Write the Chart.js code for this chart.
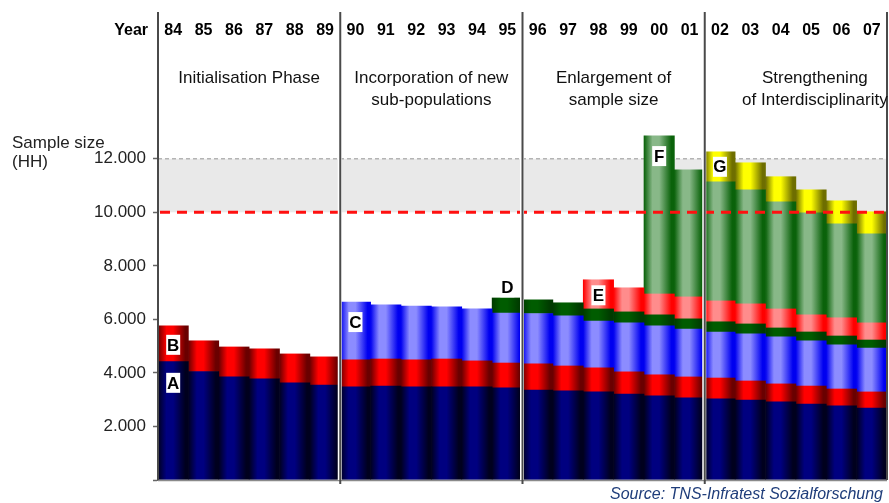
<!DOCTYPE html>
<html>
<head>
<meta charset="utf-8">
<title>Sample size (HH) by year</title>
<script src="https://cdn.jsdelivr.net/npm/chart.js@4.4.1/dist/chart.umd.min.js"></script>
<style>
  html, body { margin: 0; padding: 0; background: #fff; }
  #wrap { width: 889px; height: 503px; position: relative; }
</style>
</head>
<body>
<div id="wrap"><canvas id="sampleChart"></canvas></div>
<script>
// Survey years (categories)
const years = ['84', '85', '86', '87', '88', '89', '90', '91', '92', '93', '94', '95',
               '96', '97', '98', '99', '00', '01', '02', '03', '04', '05', '06', '07'];

// Households per subsample, stacked bottom to top
const sampleA = [4420, 4050, 3850, 3780, 3630, 3550, 3480, 3510, 3480, 3480, 3480, 3440,
                 3360, 3330, 3290, 3210, 3140, 3070, 3030, 2990, 2920, 2840, 2770, 2690];
const sampleB = [1340, 1150, 1120, 1120, 1080, 1050, 1010, 1010, 1010, 1040, 970, 930,
                 980, 930, 900, 830, 790, 780, 780, 710, 670, 670, 630, 600];
const sampleC = [null, null, null, null, null, null, 2160, 2020, 2010, 1950, 1940, 1870,
                 1880, 1870, 1750, 1830, 1830, 1790, 1720, 1760, 1760, 1690, 1650, 1640];
const sampleD = [null, null, null, null, null, null, null, null, null, null, null, 560,
                 510, 490, 450, 410, 410, 380, 380, 370, 330, 330, 330, 300];
const sampleE = [null, null, null, null, null, null, null, null, null, null, null, null,
                 null, null, 1090, 900, 780, 820, 780, 750, 710, 640, 680, 640];
const sampleF = [null, null, null, null, null, null, null, null, null, null, null, null,
                 null, null, null, null, 5910, 4750, 4450, 4260, 4000, 3810, 3510, 3330];
const sampleG = [null, null, null, null, null, null, null, null, null, null, null, null,
                 null, null, null, null, null, null, 1120, 1010, 940, 860, 860, 820];

// Y axis ticks
const yTicks = [0, 2000, 4000, 6000, 8000, 10000, 12000];

// Target band (households)
const targetLow = 10000;
const targetHigh = 12000;

// Project phases: first and last year index + title lines
const phases = [
    { from: 0, to: 5, lines: ['Initialisation Phase'] },
    { from: 6, to: 11, lines: ['Incorporation of new', 'sub-populations'] },
    { from: 12, to: 17, lines: ['Enlargement of', 'sample size'] },
    { from: 18, to: 23, lines: ['Strengthening', 'of Interdisciplinarity'] }
];

// Subsample letters, anchored at a year and a value
const letterTags = [
    { tag: 'A', year: '84', value: 3630 },
    { tag: 'B', year: '84', value: 5050 },
    { tag: 'C', year: '90', value: 5900 },
    { tag: 'D', year: '95', value: 7200 },
    { tag: 'E', year: '98', value: 6900 },
    { tag: 'F', year: '00', value: 12100 },
    { tag: 'G', year: '02', value: 11700 }
];

const FONT = "'Liberation Sans', Arial, Helvetica, sans-serif";

// Horizontal "cylinder" shading for each bar
function barShade(edge, center) {
    return function(context) {
        const chart = context.chart;
        const xs = chart.scales.x;
        if (!xs || context.dataIndex === undefined) return center;
        const cx = xs.getPixelForValue(context.dataIndex);
        const w = xs.width / years.length;
        if (!isFinite(cx) || !isFinite(w) || w <= 0) return center;
        const g = chart.ctx.createLinearGradient(cx - w / 2, 0, cx + w / 2, 0);
        g.addColorStop(0, edge);
        g.addColorStop(0.28, center);
        g.addColorStop(0.5, center);
        g.addColorStop(0.9, edge);
        g.addColorStop(1, edge);
        return g;
    };
}

function makeSet(label, data, edge, center) {
    return {
        label: label,
        data: data,
        backgroundColor: barShade(edge, center),
        borderWidth: 0,
        barPercentage: 1,
        categoryPercentage: 1
    };
}

// Band, dashed lines, separators, header texts and letters
const decorPlugin = {
    id: 'decor',
    beforeDatasetsDraw(chart) {
        const { ctx, chartArea: a, scales: { y } } = chart;
        const yHi = y.getPixelForValue(targetHigh);
        const yLo = y.getPixelForValue(targetLow);
        ctx.save();
        ctx.fillStyle = '#e9e9e9';
        ctx.fillRect(a.left, yHi, a.right - a.left, yLo - yHi);
        ctx.strokeStyle = '#b4b4b4';
        ctx.lineWidth = 1.5;
        ctx.setLineDash([4, 3]);
        ctx.beginPath();
        ctx.moveTo(a.left, yHi);
        ctx.lineTo(a.right, yHi);
        ctx.stroke();
        ctx.restore();
    },
    afterDatasetsDraw(chart) {
        const { ctx, chartArea: a, scales: { x, y } } = chart;
        const top = 12;
        ctx.save();

        // red dashed target line
        const yLo = y.getPixelForValue(targetLow);
        ctx.strokeStyle = '#ff1010';
        ctx.lineWidth = 3;
        ctx.setLineDash([10, 7]);
        ctx.beginPath();
        ctx.moveTo(a.left + 2, yLo);
        ctx.lineTo(a.right, yLo);
        ctx.stroke();
        ctx.setLineDash([]);

        // baseline
        ctx.strokeStyle = '#8a8a8a';
        ctx.lineWidth = 1.5;
        ctx.beginPath();
        ctx.moveTo(a.left, a.bottom + 0.5);
        ctx.lineTo(a.right, a.bottom + 0.5);
        ctx.stroke();

        // phase separators
        const bounds = [a.left];
        for (let i = 1; i < phases.length; i++) {
            bounds.push((x.getPixelForValue(phases[i - 1].to) + x.getPixelForValue(phases[i].from)) / 2);
        }
        bounds.push(a.right);
        bounds.forEach((bx, i) => {
            if (i > 0 && i < bounds.length - 1) {
                ctx.fillStyle = '#fff';
                ctx.fillRect(bx - 2.5, a.top, 4, a.bottom - a.top);
            }
            ctx.strokeStyle = '#4a4a4a';
            ctx.lineWidth = 2;
            ctx.beginPath();
            ctx.moveTo(bx, top);
            ctx.lineTo(bx, a.bottom + (i > 0 && i < bounds.length - 1 ? 4 : 0));
            ctx.stroke();
        });

        // year labels
        ctx.fillStyle = '#000';
        ctx.font = 'bold 16px ' + FONT;
        ctx.textBaseline = 'middle';
        ctx.textAlign = 'right';
        ctx.fillText('Year', a.left - 10, 31);
        ctx.textAlign = 'center';
        years.forEach((yr, i) => {
            ctx.fillText(yr, x.getPixelForValue(i), 31);
        });

        // phase titles
        ctx.font = '17px ' + FONT;
        ctx.fillStyle = '#111';
        phases.forEach((ph, i) => {
            let cx = (bounds[i] + bounds[i + 1]) / 2;
            if (i === phases.length - 1) cx += 19; // the last title runs past the edge
            ph.lines.forEach((txt, k) => {
                ctx.fillText(txt, cx, 78 + k * 22);
            });
        });

        // axis title
        ctx.textAlign = 'left';
        ctx.fillStyle = '#222';
        ctx.fillText('Sample size', 12, 143);
        ctx.fillText('(HH)', 12, 162);

        // subsample letters
        ctx.font = 'bold 17px ' + FONT;
        ctx.textAlign = 'center';
        letterTags.forEach(t => {
            const px = x.getPixelForValue(years.indexOf(t.year));
            const py = y.getPixelForValue(t.value);
            ctx.fillStyle = '#fff';
            ctx.fillRect(px - 7, py - 10, 14, 20);
            ctx.fillStyle = '#000';
            ctx.fillText(t.tag, px, py + 1);
        });

        // source
        ctx.font = 'italic 16px ' + FONT;
        ctx.fillStyle = '#1f3d7a';
        ctx.textAlign = 'right';
        ctx.fillText('Source: TNS-Infratest Sozialforschung', 883, 495);

        ctx.restore();
    }
};

const ctx = document.getElementById('sampleChart');
new Chart(ctx.getContext('2d'), {
    type: 'bar',
    data: {
        labels: years,
        datasets: [
            makeSet('A', sampleA, '#00001e', '#000080'),
            makeSet('B', sampleB, '#6a0000', '#ff0000'),
            makeSet('C', sampleC, '#0000f0', '#8c8cff'),
            makeSet('D', sampleD, '#003a00', '#005c00'),
            makeSet('E', sampleE, '#ff0000', '#ff8c8c'),
            makeSet('F', sampleF, '#0a620a', '#88b888'),
            makeSet('G', sampleG, '#6e6e00', '#ffff00')
        ]
    },
    options: {
        responsive: true,
        maintainAspectRatio: false,
        animation: false,
        devicePixelRatio: 1,
        layout: { padding: { top: 132, bottom: 23, left: 0, right: 2 } },
        plugins: {
            legend: { display: false },
            tooltip: { enabled: false }
        },
        scales: {
            x: {
                stacked: true,
                display: false
            },
            y: {
                stacked: true,
                min: 0,
                max: 13000,
                afterFit(scale) { scale.width = 158; },
                afterBuildTicks(scale) { scale.ticks = yTicks.map(v => ({ value: v })); },
                ticks: {
                    color: '#222',
                    padding: 7,
                    font: { size: 17, family: FONT },
                    callback: v => v === 0 ? '' : (v / 1000) + '.000'
                },
                grid: { drawOnChartArea: false, tickLength: 5, tickColor: '#666', tickWidth: 1.5 },
                border: { color: '#666', width: 2 }
            }
        }
    },
    plugins: [decorPlugin]
});
</script>
</body>
</html>
